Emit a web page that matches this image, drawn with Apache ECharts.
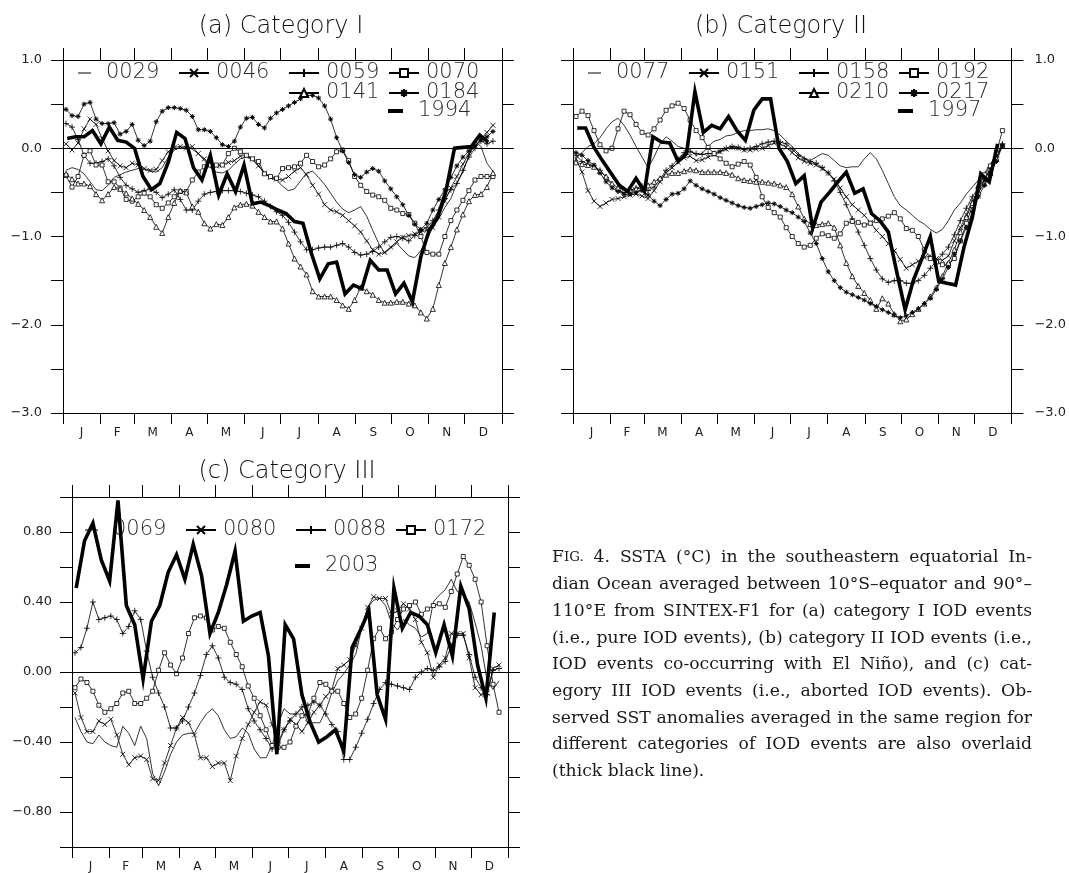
<!DOCTYPE html>
<html><head><meta charset="utf-8">
<script src="https://cdn.jsdelivr.net/npm/echarts@6/dist/echarts.min.js"></script>
<style>html,body{margin:0;padding:0;background:#fff}#c{width:1069px;height:873px}</style>
</head><body><div id="c"></div>
<script>
// ---------- tick labels / categories ----------
const months = ['J','F','M','A','M','J','J','A','S','O','N','D'];
const monthStarts = [0,31,59,90,120,151,181,212,243,273,304,334,365];

// ---------- Panel (a) Category I (pentad model series, weekly observed) ----------
const a0029 = [-0.25,-0.22,-0.24,-0.29,-0.38,-0.47,-0.48,-0.42,-0.33,-0.30,-0.27,-0.25,-0.23,-0.24,-0.26,-0.27,-0.22,-0.10,-0.02,0.01,0.02,-0.01,-0.06,-0.14,-0.22,-0.27,-0.28,-0.25,-0.18,-0.12,-0.10,-0.13,-0.20,-0.28,-0.34,-0.36,-0.43,-0.48,-0.46,-0.37,-0.28,-0.26,-0.33,-0.41,-0.51,-0.61,-0.69,-0.73,-0.70,-0.66,-0.77,-0.93,-1.08,-1.19,-1.13,-1.08,-1.15,-1.22,-1.24,-1.16,-1.03,-0.90,-0.80,-0.67,-0.57,-0.40,-0.27,-0.08,0.08,0.02,-0.17,-0.26];
const a0046 = [0.05,-0.02,0.06,0.22,0.33,0.27,0.11,-0.03,-0.14,-0.20,-0.22,-0.17,-0.19,-0.23,-0.25,-0.24,-0.14,-0.04,0.01,0.02,0.00,0.02,-0.06,-0.12,-0.19,-0.20,-0.19,-0.16,-0.14,-0.09,-0.08,-0.12,-0.20,-0.28,-0.33,-0.35,-0.36,-0.32,-0.26,-0.22,-0.30,-0.42,-0.52,-0.64,-0.70,-0.72,-0.76,-0.82,-0.88,-0.95,-1.05,-1.15,-1.20,-1.18,-1.12,-1.06,-1.01,-0.99,-0.97,-0.95,-0.93,-0.90,-0.78,-0.60,-0.45,-0.32,-0.18,-0.06,0.02,0.10,0.18,0.26];
const a0059 = [0.28,0.24,0.10,-0.08,-0.17,-0.17,-0.15,-0.12,-0.20,-0.33,-0.42,-0.46,-0.50,-0.48,-0.46,-0.50,-0.56,-0.52,-0.47,-0.58,-0.70,-0.70,-0.60,-0.52,-0.50,-0.49,-0.48,-0.48,-0.48,-0.49,-0.51,-0.53,-0.55,-0.60,-0.66,-0.72,-0.76,-0.84,-0.95,-1.06,-1.15,-1.15,-1.13,-1.12,-1.12,-1.10,-1.08,-1.12,-1.18,-1.21,-1.20,-1.17,-1.12,-1.06,-1.01,-1.00,-1.02,-1.05,-0.99,-0.93,-0.90,-0.82,-0.70,-0.57,-0.47,-0.40,-0.25,-0.10,0.00,0.08,0.05,0.08];
const a0070 = [-0.31,-0.44,-0.32,-0.08,-0.03,-0.19,-0.19,-0.38,-0.38,-0.45,-0.58,-0.60,-0.55,-0.51,-0.55,-0.64,-0.68,-0.62,-0.55,-0.49,-0.49,-0.36,-0.27,-0.21,-0.19,-0.19,-0.19,-0.06,0.00,-0.04,-0.08,-0.12,-0.15,-0.29,-0.32,-0.34,-0.23,-0.22,-0.21,-0.17,-0.08,-0.15,-0.21,-0.19,-0.12,-0.04,-0.02,-0.14,-0.32,-0.42,-0.49,-0.53,-0.55,-0.59,-0.68,-0.70,-0.74,-0.75,-0.85,-1.00,-1.18,-1.20,-1.20,-1.00,-0.82,-0.70,-0.59,-0.48,-0.36,-0.32,-0.32,-0.32];
const a0141 = [-0.29,-0.35,-0.40,-0.40,-0.43,-0.52,-0.59,-0.52,-0.44,-0.46,-0.51,-0.57,-0.63,-0.70,-0.78,-0.89,-0.96,-0.78,-0.62,-0.48,-0.50,-0.66,-0.72,-0.85,-0.91,-0.86,-0.87,-0.78,-0.67,-0.64,-0.63,-0.65,-0.72,-0.78,-0.83,-0.83,-0.91,-1.08,-1.25,-1.34,-1.43,-1.62,-1.68,-1.68,-1.68,-1.72,-1.78,-1.82,-1.72,-1.58,-1.62,-1.66,-1.72,-1.75,-1.75,-1.74,-1.74,-1.76,-1.78,-1.86,-1.93,-1.82,-1.55,-1.30,-1.12,-0.92,-0.75,-0.60,-0.53,-0.52,-0.44,-0.28];
const a0184 = [0.44,0.37,0.36,0.50,0.52,0.33,0.28,0.28,0.29,0.16,0.19,0.27,0.09,0.03,0.08,0.30,0.42,0.46,0.46,0.45,0.43,0.36,0.21,0.21,0.19,0.12,0.04,0.02,0.08,0.24,0.34,0.35,0.27,0.23,0.34,0.40,0.44,0.48,0.52,0.56,0.60,0.60,0.57,0.48,0.33,0.12,-0.03,-0.16,-0.30,-0.33,-0.27,-0.23,-0.26,-0.37,-0.46,-0.55,-0.64,-0.76,-0.86,-0.92,-0.85,-0.70,-0.58,-0.47,-0.33,-0.20,-0.10,-0.03,0.03,0.10,0.13,0.19];
const a1994 = [0.11,0.13,0.13,0.20,0.05,0.24,0.09,0.07,0.00,-0.32,-0.47,-0.40,-0.16,0.18,0.11,-0.22,-0.36,-0.08,-0.53,-0.29,-0.49,-0.19,-0.63,-0.61,-0.65,-0.70,-0.74,-0.83,-0.85,-1.19,-1.48,-1.31,-1.29,-1.65,-1.55,-1.59,-1.27,-1.38,-1.38,-1.65,-1.53,-1.74,-1.23,-0.93,-0.78,-0.48,0.00,0.01,0.02,0.15,0.07];

// ---------- Panel (b) Category II ----------
const b0077 = [-0.10,-0.05,0.02,0.05,0.12,0.22,0.30,0.34,0.26,0.15,0.02,-0.10,-0.22,-0.10,0.05,0.13,0.08,0.02,0.00,-0.02,-0.08,-0.06,0.02,0.08,0.10,0.14,0.15,0.18,0.20,0.20,0.21,0.21,0.22,0.20,0.15,0.08,0.02,-0.06,-0.11,-0.14,-0.10,-0.06,-0.08,-0.14,-0.20,-0.22,-0.21,-0.21,-0.12,-0.05,-0.12,-0.25,-0.40,-0.55,-0.65,-0.70,-0.76,-0.82,-0.86,-0.92,-0.96,-0.92,-0.82,-0.70,-0.62,-0.52,-0.44,-0.36,-0.28,-0.18,-0.08,0.03];
const b0151 = [-0.12,-0.27,-0.48,-0.60,-0.66,-0.62,-0.58,-0.57,-0.55,-0.53,-0.52,-0.54,-0.57,-0.48,-0.38,-0.28,-0.22,-0.16,-0.11,-0.09,-0.14,-0.13,-0.10,-0.07,-0.04,-0.01,0.01,0.00,-0.02,-0.02,-0.01,0.00,0.03,0.06,0.05,0.01,-0.05,-0.11,-0.15,-0.17,-0.19,-0.23,-0.28,-0.35,-0.45,-0.55,-0.64,-0.70,-0.76,-0.84,-0.93,-1.00,-1.08,-1.16,-1.26,-1.36,-1.32,-1.28,-1.24,-1.22,-1.25,-1.27,-1.22,-1.05,-0.90,-0.75,-0.60,-0.48,-0.36,-0.24,-0.10,0.02];
const b0158 = [-0.08,-0.15,-0.18,-0.20,-0.25,-0.33,-0.42,-0.48,-0.50,-0.48,-0.45,-0.43,-0.48,-0.44,-0.35,-0.25,-0.20,-0.12,-0.05,-0.04,-0.06,-0.07,-0.06,-0.06,-0.03,0.00,0.02,0.01,-0.01,0.00,0.02,0.05,0.07,0.08,0.07,0.05,-0.01,-0.08,-0.12,-0.15,-0.17,-0.22,-0.28,-0.37,-0.50,-0.64,-0.80,-0.95,-1.10,-1.25,-1.38,-1.48,-1.52,-1.50,-1.50,-1.53,-1.53,-1.50,-1.44,-1.36,-1.28,-1.20,-1.12,-0.98,-0.82,-0.68,-0.55,-0.45,-0.35,-0.22,-0.10,0.05];
const b0192 = [0.36,0.42,0.37,0.20,0.04,-0.03,0.00,0.22,0.42,0.38,0.27,0.18,0.15,0.22,0.32,0.43,0.48,0.51,0.45,0.32,0.20,0.12,0.01,-0.06,-0.12,-0.17,-0.21,-0.18,-0.15,-0.19,-0.33,-0.55,-0.67,-0.73,-0.78,-0.90,-1.00,-1.08,-1.12,-1.10,-1.02,-0.97,-0.99,-1.02,-0.97,-0.85,-0.83,-0.84,-0.87,-0.85,-0.82,-0.80,-0.77,-0.73,-0.80,-0.91,-0.93,-1.00,-1.15,-1.25,-1.29,-1.32,-1.32,-1.25,-1.05,-0.85,-0.65,-0.45,-0.30,-0.20,-0.05,0.20];
const b0210 = [-0.16,-0.18,-0.19,-0.21,-0.26,-0.32,-0.40,-0.45,-0.47,-0.47,-0.46,-0.45,-0.42,-0.38,-0.34,-0.30,-0.28,-0.28,-0.26,-0.24,-0.25,-0.27,-0.27,-0.27,-0.27,-0.28,-0.30,-0.34,-0.36,-0.37,-0.38,-0.38,-0.39,-0.40,-0.42,-0.44,-0.52,-0.66,-0.80,-0.86,-0.87,-0.86,-0.85,-0.90,-1.10,-1.30,-1.45,-1.56,-1.64,-1.72,-1.82,-1.70,-1.76,-1.88,-1.96,-1.94,-1.88,-1.82,-1.76,-1.68,-1.58,-1.45,-1.30,-1.15,-0.95,-0.78,-0.62,-0.50,-0.40,-0.28,-0.12,0.04];
const b0217 = [-0.05,-0.08,-0.14,-0.19,-0.28,-0.38,-0.45,-0.49,-0.52,-0.52,-0.50,-0.48,-0.53,-0.60,-0.65,-0.58,-0.52,-0.51,-0.46,-0.37,-0.42,-0.46,-0.49,-0.52,-0.56,-0.59,-0.62,-0.65,-0.67,-0.68,-0.66,-0.64,-0.62,-0.63,-0.66,-0.70,-0.73,-0.78,-0.83,-0.96,-1.08,-1.25,-1.40,-1.50,-1.58,-1.63,-1.66,-1.69,-1.72,-1.76,-1.79,-1.83,-1.86,-1.89,-1.92,-1.90,-1.86,-1.82,-1.76,-1.70,-1.60,-1.48,-1.35,-1.20,-1.05,-0.90,-0.72,-0.55,-0.42,-0.28,-0.15,0.03];
const b1997 = [0.23,0.23,0.01,-0.14,-0.28,-0.42,-0.49,-0.34,-0.49,0.13,0.07,0.06,-0.15,-0.06,0.64,0.18,0.26,0.22,0.36,0.20,0.09,0.43,0.56,0.56,0.00,-0.15,-0.40,-0.31,-0.91,-0.61,-0.50,-0.38,-0.27,-0.51,-0.46,-0.74,-0.82,-0.95,-1.40,-1.83,-1.49,-1.25,-1.00,-1.51,-1.53,-1.55,-1.12,-0.78,-0.29,-0.38,0.05];

// ---------- Panel (c) Category III ----------
const c0069 = [-0.26,-0.34,-0.40,-0.41,-0.36,-0.40,-0.42,-0.43,-0.31,-0.35,-0.42,-0.31,-0.38,-0.58,-0.65,-0.57,-0.47,-0.40,-0.36,-0.35,-0.35,-0.29,-0.24,-0.21,-0.25,-0.33,-0.38,-0.37,-0.32,-0.35,-0.44,-0.49,-0.49,-0.42,-0.30,-0.21,-0.24,-0.24,-0.21,-0.29,-0.29,-0.29,-0.22,-0.12,-0.05,-0.01,0.04,0.10,0.25,0.37,0.41,0.42,0.38,0.28,0.24,0.30,0.27,0.25,0.20,0.22,0.40,0.44,0.47,0.53,0.46,0.44,0.40,0.28,0.15,-0.05,-0.10,-0.05];
const c0080 = [-0.12,-0.26,-0.34,-0.34,-0.28,-0.30,-0.27,-0.36,-0.47,-0.53,-0.49,-0.48,-0.50,-0.61,-0.62,-0.52,-0.42,-0.32,-0.26,-0.29,-0.36,-0.49,-0.49,-0.54,-0.52,-0.52,-0.62,-0.48,-0.38,-0.30,-0.23,-0.17,-0.19,-0.30,-0.42,-0.33,-0.27,-0.30,-0.34,-0.29,-0.23,-0.19,-0.14,-0.10,0.02,0.04,0.07,0.15,0.25,0.37,0.43,0.42,0.42,0.33,0.35,0.39,0.36,0.30,0.17,0.11,-0.03,0.04,0.08,0.22,0.22,0.22,0.08,-0.09,-0.13,-0.12,0.02,0.04];
const c0088 = [0.11,0.14,0.25,0.40,0.30,0.31,0.32,0.30,0.22,0.26,0.35,0.30,0.12,-0.03,-0.12,-0.20,-0.32,-0.32,-0.28,-0.20,-0.12,-0.02,0.10,0.15,0.08,-0.03,-0.06,-0.07,-0.10,-0.21,-0.28,-0.33,-0.38,-0.44,-0.40,-0.33,-0.28,-0.24,-0.20,-0.19,-0.17,-0.19,-0.24,-0.30,-0.34,-0.50,-0.50,-0.43,-0.35,-0.27,-0.18,-0.10,-0.06,-0.07,-0.08,-0.09,-0.10,-0.03,0.00,0.02,0.01,0.03,0.06,0.15,0.21,0.21,0.10,-0.03,-0.09,-0.13,0.01,0.02];
const c0172 = [-0.09,-0.04,-0.06,-0.11,-0.19,-0.23,-0.21,-0.18,-0.12,-0.11,-0.18,-0.18,-0.15,-0.11,0.01,0.11,0.04,-0.01,0.08,0.22,0.31,0.32,0.31,0.24,0.26,0.25,0.17,0.10,0.03,-0.08,-0.15,-0.25,-0.33,-0.42,-0.43,-0.43,-0.40,-0.31,-0.25,-0.24,-0.15,-0.06,-0.07,-0.11,-0.11,-0.18,-0.26,-0.24,-0.15,0.01,0.19,0.25,0.19,0.23,0.30,0.36,0.38,0.40,0.33,0.36,0.38,0.39,0.37,0.46,0.56,0.66,0.61,0.53,0.40,0.15,-0.07,-0.23];
const c2003 = [0.48,0.75,0.85,0.64,0.52,0.98,0.38,0.27,-0.04,0.29,0.38,0.57,0.67,0.53,0.73,0.55,0.22,0.34,0.50,0.69,0.29,0.32,0.34,0.09,-0.47,0.27,0.19,-0.13,-0.29,-0.40,-0.37,-0.33,-0.45,0.14,0.24,0.35,-0.13,-0.27,0.48,0.25,0.34,0.32,0.27,0.11,0.27,0.09,0.49,0.36,0.04,-0.15,0.34];

// ---------- helpers ----------
const monthMids = months.map((m, i) => (monthStarts[i] + monthStarts[i + 1]) / 2);
const pentadDay = i => 2.5 + 5 * i;   // model output: 5-day means
const weekDay = i => 3.5 + 7 * i;     // observations: weekly means
const toPairs = (arr, dayFn) => arr.map((v, i) => [dayFn(i), v]);
const FONT = 'DejaVu Sans';

const SYM = {
  plain: ['none', 0],
  x: ['path://M0,0L10,10M10,0L0,10', 5],
  plus: ['path://M5,0L5,10M0,5L10,5', 6],
  sq: ['rect', 4],
  tri: ['triangle', 5],
  star: ['path://M5,0L5,10M0,5L10,5M1.5,1.5L8.5,8.5M8.5,1.5L1.5,8.5', 5]
};

const panels = [
  { title: '(a) Category I', tx: 281, ty: 27,
    grid: { left: 63, top: 60, width: 439, height: 353 },
    ymin: -3, ymax: 1, yint: 0.5, labelSide: 'left', labelMargin: 21,
    fmt: v => (Math.abs(v - Math.round(v)) < 1e-6 ? v.toFixed(1).replace('-', '\u2212') : ''),
    series: [['0029', a0029, 'plain'], ['0046', a0046, 'x'], ['0059', a0059, 'plus'], ['0070', a0070, 'sq'], ['0141', a0141, 'tri'], ['0184', a0184, 'star']],
    obs: ['1994', a1994],
    legend: [['0029', 78, 62, 'plain'], ['0046', 178, 62, 'mark'], ['0059', 288, 62, 'mark'], ['0070', 388, 62, 'mark'], ['0141', 288, 82, 'mark'], ['0184', 388, 82, 'mark'], ['1994', 388, 100, 'obs']] },
  { title: '(b) Category II', tx: 781, ty: 27,
    grid: { left: 573, top: 60, width: 439, height: 353 },
    ymin: -3, ymax: 1, yint: 0.5, labelSide: 'right', labelMargin: 23,
    fmt: v => (Math.abs(v - Math.round(v)) < 1e-6 ? v.toFixed(1).replace('-', '\u2212') : ''),
    series: [['0077', b0077, 'plain'], ['0151', b0151, 'x'], ['0158', b0158, 'plus'], ['0192', b0192, 'sq'], ['0210', b0210, 'tri'], ['0217', b0217, 'star']],
    obs: ['1997', b1997],
    legend: [['0077', 588, 62, 'plain'], ['0151', 688, 62, 'mark'], ['0158', 798, 62, 'mark'], ['0192', 898, 62, 'mark'], ['0210', 798, 82, 'mark'], ['0217', 898, 82, 'mark'], ['1997', 898, 100, 'obs']] },
  { title: '(c) Category III', tx: 287, ty: 472,
    grid: { left: 72, top: 497, width: 436, height: 350 },
    ymin: -1, ymax: 1, yint: 0.2, labelSide: 'left', labelMargin: 20,
    fmt: v => { const r = Math.round(v * 10) / 10; const a = Math.abs(r);
      return (a < 1e-6 || Math.abs(a - 0.4) < 1e-6 || Math.abs(a - 0.8) < 1e-6) ? r.toFixed(2).replace('-', '\u2212') : ''; },
    series: [['0069', c0069, 'plain'], ['0080', c0080, 'x'], ['0088', c0088, 'plus'], ['0172', c0172, 'sq']],
    obs: ['2003', c2003],
    legend: [['0069', 85, 519, 'plain'], ['0080', 185, 519, 'mark'], ['0088', 295, 519, 'mark'], ['0172', 395, 519, 'mark'], ['2003', 295, 555, 'obs']] }
];

const LEG = {
  plain: { icon: 'rect', itemWidth: 13, itemHeight: 1, pad: 10 },
  mark: { itemWidth: 30, itemHeight: 10, pad: 2 },
  obs: { icon: 'rect', itemWidth: 15, itemHeight: 4, pad: 10 }
};

const grid = [], xAxis = [], yAxis = [], series = [], legend = [], graphic = [];
const axisLine = { show: true, onZero: false, lineStyle: { color: '#000', width: 1 } };
const tickStyle = { color: '#000', width: 1 };

panels.forEach((p, g) => {
  grid.push(Object.assign({ containLabel: false }, p.grid));
  const xb = xAxis.length;
  xAxis.push({ type: 'value', gridIndex: g, min: 0, max: 365, position: 'bottom', axisLine,
    axisTick: { show: true, length: 11, customValues: monthStarts, lineStyle: tickStyle },
    axisLabel: { show: true, customValues: monthMids, margin: 14, fontSize: 12, color: '#222', fontFamily: FONT,
      formatter: v => { let k = 0, d = 1e9; monthMids.forEach((m, i) => { if (Math.abs(m - v) < d) { d = Math.abs(m - v); k = i; } }); return months[k]; } },
    splitLine: { show: false } });
  xAxis.push({ type: 'value', gridIndex: g, min: 0, max: 365, position: 'top', axisLine,
    axisTick: { show: true, length: 12, customValues: monthStarts, lineStyle: tickStyle },
    axisLabel: { show: false }, splitLine: { show: false } });
  const yl = yAxis.length;
  ['left', 'right'].forEach(side => {
    yAxis.push({ type: 'value', gridIndex: g, min: p.ymin, max: p.ymax, interval: p.yint, position: side, axisLine,
      axisTick: { show: true, length: 12, lineStyle: tickStyle },
      axisLabel: { show: side === p.labelSide, margin: p.labelMargin, fontSize: 13, color: '#222', fontFamily: FONT, formatter: p.fmt, showMinLabel: true, showMaxLabel: true },
      splitLine: { show: false } });
  });
  p.series.forEach(([name, vals, kind], si) => {
    const [sym, size] = SYM[kind];
    const s = { type: 'line', name, xAxisIndex: xb, yAxisIndex: yl, data: toPairs(vals, pentadDay),
      symbol: sym, symbolSize: size, showSymbol: sym !== 'none', animation: false, silent: true, z: 3,
      lineStyle: { color: '#000', width: 0.8 },
      itemStyle: { color: kind === 'plain' ? '#000' : '#fff', borderColor: '#000', borderWidth: kind === 'star' ? 1 : 0.8 } };
    if (si === 0) s.markLine = { silent: true, symbol: 'none', label: { show: false }, animation: false,
      lineStyle: { color: '#000', width: 1, type: 'solid' }, data: [{ yAxis: 0 }] };
    series.push(s);
  });
  series.push({ type: 'line', name: p.obs[0], xAxisIndex: xb, yAxisIndex: yl, data: toPairs(p.obs[1], weekDay),
    symbol: 'none', showSymbol: false, animation: false, silent: true, z: 5,
    lineStyle: { color: '#000', width: 3.6, join: 'miter' }, itemStyle: { color: '#000' } });
  p.legend.forEach(([name, left, top, kind]) => {
    const L = LEG[kind];
    const lg = { data: [name], left, top, padding: 0, itemWidth: L.itemWidth, itemHeight: L.itemHeight, selectedMode: false,
      textStyle: { fontSize: 21, color: '#2a2a2a', fontFamily: FONT, fontWeight: 200, lineHeight: 22, padding: [0, 0, 0, L.pad] } };
    if (L.icon) { lg.icon = L.icon; lg.itemStyle = { color: '#000', borderWidth: 0 }; }
    legend.push(lg);
  });
  graphic.push({ type: 'text', x: p.tx, y: p.ty, silent: true,
    style: { text: p.title, fill: '#111', fontSize: 24, fontFamily: FONT, fontWeight: 200, align: 'center', verticalAlign: 'middle' } });
});

// ---------- caption (justified lines) ----------
const captionLines = [
  'FIG. 4. SSTA (\u00b0C) in the southeastern equatorial In-',
  'dian Ocean averaged between 10\u00b0S\u2013equator and 90\u00b0\u2013',
  '110\u00b0E from SINTEX-F1 for (a) category I IOD events',
  '(i.e., pure IOD events), (b) category II IOD events (i.e.,',
  'IOD events co-occurring with El Ni\u00f1o), and (c) cat-',
  'egory III IOD events (i.e., aborted IOD events). Ob-',
  'served SST anomalies averaged in the same region for',
  'different categories of IOD events are also overlaid',
  '(thick black line).'
];
const CAP = { x: 552, y0: 558, dy: 26.7, width: 480, size: 17.2, font: 'DejaVu Serif' };
const ctx = document.createElement('canvas').getContext('2d');
const measure = (t, s) => { ctx.font = s + 'px "' + CAP.font + '"'; return ctx.measureText(t).width; };
captionLines.forEach((line, li) => {
  const y = CAP.y0 + li * CAP.dy;
  const words = line.split(' ');
  const widths = words.map(w => w === 'FIG.' ? measure('F', CAP.size) + measure('IG.', CAP.size * 0.78) : measure(w, CAP.size));
  const total = widths.reduce((a, b) => a + b, 0);
  let gap = words.length > 1 ? (CAP.width - total) / (words.length - 1) : 0;
  if (li === captionLines.length - 1 || gap > 20 || gap < 1) gap = measure(' ', CAP.size);
  let x = CAP.x;
  words.forEach((w, wi) => {
    const st = { fill: '#1a1a1a', fontSize: CAP.size, fontFamily: CAP.font, verticalAlign: 'middle', align: 'left' };
    if (w === 'FIG.') {
      st.text = '{n|F}{s|IG.}';
      st.rich = { n: { fontSize: CAP.size, fontFamily: CAP.font, fill: '#1a1a1a' }, s: { fontSize: CAP.size * 0.78, fontFamily: CAP.font, fill: '#1a1a1a' } };
    } else st.text = w;
    graphic.push({ type: 'text', x, y, silent: true, style: st });
    x += widths[wi] + gap;
  });
});

const chart = echarts.init(document.getElementById('c'), null, { renderer: 'canvas' });
chart.setOption({ backgroundColor: '#fff', animation: false, grid, xAxis, yAxis, series, legend, graphic });
</script>
</body></html>
